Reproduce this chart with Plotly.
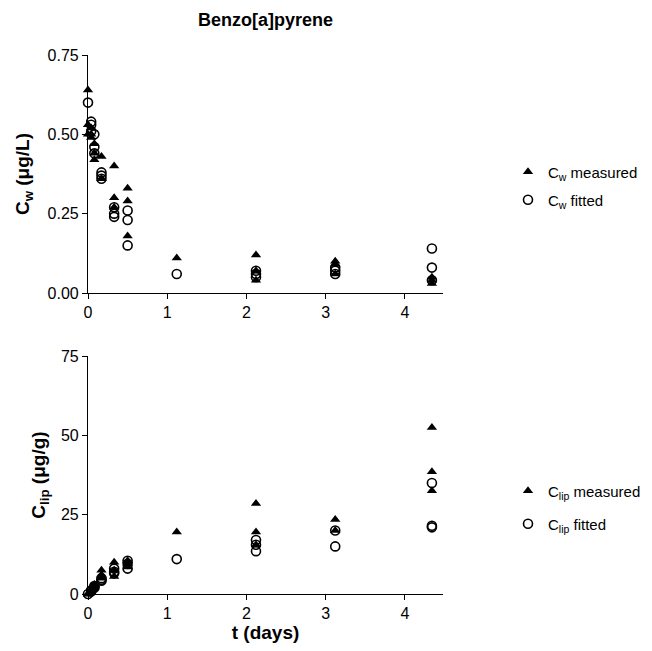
import plotly.graph_objects as go

# ---- data (t in days) ----
cw_meas_t = [0, 0, 0, 0.04, 0.04, 0.04, 0.08, 0.08, 0.08, 0.17, 0.17, 0.17,
             0.33, 0.33, 0.33, 0.5, 0.5, 0.5, 1.12, 2.12, 2.12, 2.12,
             3.12, 3.12, 3.12, 4.34, 4.34, 4.34]
cw_meas = [0.64, 0.53, 0.50, 0.52, 0.50, 0.49, 0.47, 0.44, 0.42, 0.43, 0.36, 0.36,
           0.40, 0.30, 0.27, 0.33, 0.29, 0.18, 0.11, 0.12, 0.07, 0.04,
           0.10, 0.09, 0.06, 0.05, 0.04, 0.03]
cw_fit_t = [0, 0.04, 0.04, 0.04, 0.08, 0.08, 0.08, 0.17, 0.17, 0.17,
            0.33, 0.33, 0.33, 0.5, 0.5, 0.5, 1.12, 2.12, 2.12, 2.12,
            3.12, 3.12, 3.12, 4.34, 4.34, 4.34]
cw_fit = [0.60, 0.54, 0.53, 0.51, 0.50, 0.46, 0.44, 0.38, 0.37, 0.36,
          0.27, 0.25, 0.24, 0.26, 0.23, 0.15, 0.06, 0.07, 0.06, 0.05,
          0.08, 0.07, 0.06, 0.14, 0.08, 0.04]

clip_meas_t = [0, 0, 0, 0.04, 0.04, 0.04, 0.08, 0.08, 0.08, 0.17, 0.17, 0.17,
               0.33, 0.33, 0.33, 0.5, 0.5, 0.5, 1.12, 2.12, 2.12, 2.12,
               3.12, 3.12, 4.34, 4.34, 4.34]
clip_meas = [0, 0, 0, 1.5, 1.0, 0.5, 3.0, 2.5, 2.0, 7.5, 6.0, 5.0,
             10.0, 7.5, 5.5, 10.5, 9.5, 8.5, 19.5, 28.5, 19.5, 15.5,
             23.5, 20.0, 52.5, 38.5, 32.5]
clip_fit_t = [0, 0.04, 0.04, 0.04, 0.08, 0.08, 0.08, 0.17, 0.17, 0.17,
              0.33, 0.33, 0.33, 0.5, 0.5, 0.5, 1.12, 2.12, 2.12, 2.12,
              3.12, 3.12, 4.34, 4.34, 4.34]
clip_fit = [0, 1.2, 1.0, 0.8, 2.5, 2.2, 2.0, 5.0, 4.5, 4.2,
            8.0, 7.0, 6.5, 10.5, 9.5, 8.0, 11.0, 17.0, 15.5, 13.5,
            20.0, 15.0, 35.0, 21.5, 21.0]

x_ticks = [0, 1, 2, 3, 4]
cw_ticks = [0, 0.25, 0.5, 0.75]
clip_ticks = [0, 25, 50, 75]

FONT = "Arial, Liberation Sans, Helvetica, sans-serif"
W, H = 652, 651
OFF = 8  # page body margin offset in screen pixels

def px_x(p):
    return (p - OFF) / W

def px_y(p):
    return 1 - (p - OFF) / H

tri = dict(symbol="triangle-up", size=9, color="black")
circ = dict(symbol="circle-open", size=9, color="black", line=dict(width=1.6, color="black"))

fig = go.Figure()
fig.add_trace(go.Scatter(x=cw_meas_t, y=cw_meas, mode="markers", marker=tri,
                         name="C<sub>w</sub> measured", xaxis="x", yaxis="y",
                         cliponaxis=False, legend="legend"))
fig.add_trace(go.Scatter(x=cw_fit_t, y=cw_fit, mode="markers", marker=circ,
                         name="C<sub>w</sub> fitted", xaxis="x", yaxis="y",
                         cliponaxis=False, legend="legend2"))
fig.add_trace(go.Scatter(x=clip_meas_t, y=clip_meas, mode="markers", marker=tri,
                         name="C<sub>lip</sub> measured", xaxis="x2", yaxis="y2",
                         cliponaxis=False, legend="legend3"))
fig.add_trace(go.Scatter(x=clip_fit_t, y=clip_fit, mode="markers", marker=circ,
                         name="C<sub>lip</sub> fitted", xaxis="x2", yaxis="y2",
                         cliponaxis=False, legend="legend4"))

x0, x1 = px_x(88), px_x(443)
top_dom = [px_y(293), px_y(55)]
bot_dom = [px_y(594), px_y(356)]

axis_common = dict(showgrid=False, zeroline=False, showline=True, linecolor="black",
                   linewidth=1.2, ticks="outside", ticklen=5, tickcolor="black",
                   tickwidth=1.2, automargin=False,
                   tickfont=dict(family=FONT, size=16, color="black"))

def leg(ypx):
    return dict(x=px_x(508), xanchor="left", y=px_y(ypx), yanchor="middle",
                font=dict(family=FONT, size=15, color="black"),
                bgcolor="rgba(0,0,0,0)", borderwidth=0)

fig.update_layout(
    width=W, height=H,
    margin=dict(l=0, r=0, t=0, b=0, pad=0, autoexpand=False),
    paper_bgcolor="white", plot_bgcolor="white",
    showlegend=True,
    title=dict(text="<b>Benzo[a]pyrene</b>", x=(x0 + x1) / 2, xanchor="center",
               y=px_y(20), yanchor="middle",
               font=dict(family=FONT, size=18, color="black")),
    xaxis=dict(domain=[x0, x1], range=[0, 4.48], tickvals=x_ticks, anchor="y",
               **axis_common),
    yaxis=dict(domain=top_dom, range=[0, 0.75], tickvals=cw_ticks, tickformat=".2f",
               anchor="x",
               title=dict(text="<b>C<sub>w</sub> (μg/L)</b>", standoff=12,
                          font=dict(family=FONT, size=19, color="black")),
               **axis_common),
    xaxis2=dict(domain=[x0, x1], range=[0, 4.48], tickvals=x_ticks, anchor="y2",
                title=dict(text="<b>t (days)</b>", standoff=3,
                           font=dict(family=FONT, size=19, color="black")),
                **axis_common),
    yaxis2=dict(domain=bot_dom, range=[0, 75], tickvals=clip_ticks, anchor="x2",
                title=dict(text="<b>C<sub>lip</sub> (μg/g)</b>", standoff=10,
                           font=dict(family=FONT, size=19, color="black")),
                **axis_common),
    legend=leg(172),
    legend2=leg(200),
    legend3=leg(491),
    legend4=leg(524),
)

fig.write_html("out.html")
